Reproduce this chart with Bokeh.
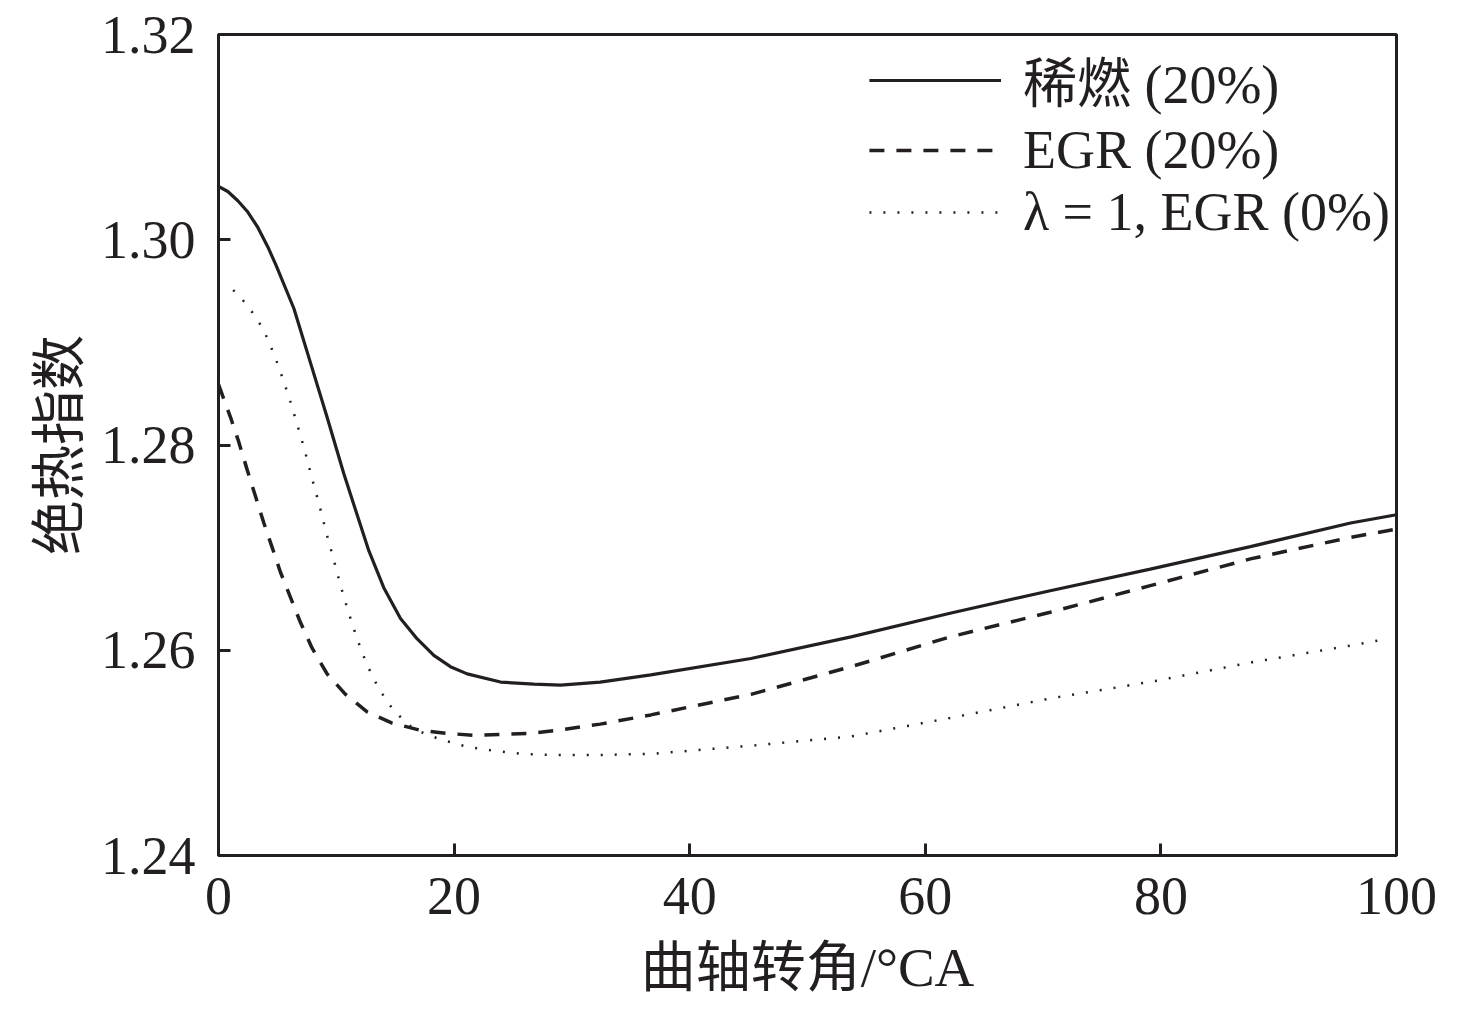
from bokeh.plotting import figure
from bokeh.models import Legend, LegendItem, FixedTicker, CustomJSTickFormatter, Range1d
from bokeh.embed import file_html
from bokeh.resources import INLINE

# 稀燃 (20%)
lean_x = [0, 0.79, 1.64, 2.49, 3.34, 4.19, 4.89, 6.40, 7.81, 9.22, 10.64, 12.05, 12.76, 14.03,
          15.45, 16.87, 18.28, 19.69, 21.11, 23.94, 26.77, 29.03, 32.4, 36.7, 45.2, 53.7,
          62.1, 70.6, 79.1, 87.6, 96.1, 100]
lean_y = [1.3052, 1.3047, 1.3038, 1.3027, 1.3012, 1.2993, 1.2975, 1.2933, 1.2880, 1.2827,
          1.2772, 1.2722, 1.2697, 1.2661, 1.2631, 1.2611, 1.2595, 1.2584, 1.2577, 1.2569,
          1.2567, 1.2566, 1.2569, 1.2576, 1.2592, 1.2613, 1.2636, 1.2658, 1.2679, 1.2701,
          1.2724, 1.2732]

# EGR (20%)
egr_x = [0, 1.02, 1.72, 2.43, 3.14, 3.85, 4.56, 5.26, 6.96, 7.95, 9.22, 10.78, 12.62, 14.74,
         17.15, 19.41, 21.82, 24.22, 26.49, 28.75, 32.4, 36.7, 45.2, 53.7, 62.1, 70.6,
         79.1, 87.6, 96.1, 100]
egr_y = [1.2859, 1.2827, 1.2803, 1.2776, 1.2750, 1.2724, 1.2700, 1.2676, 1.2627, 1.2602,
         1.2577, 1.2557, 1.2540, 1.2529, 1.2522, 1.2519, 1.2517, 1.2518, 1.2519, 1.2522,
         1.2528, 1.2537, 1.2557, 1.2584, 1.2613, 1.2637, 1.2663, 1.2689, 1.2710, 1.2718]

# λ = 1, EGR (0%)
stoich_x = [1.25, 2.07, 2.77, 3.42, 3.99, 4.47, 4.89, 5.29, 6.03, 6.71, 7.36, 7.95, 8.55,
            9.14, 9.74, 10.36, 11.01, 11.74, 12.56, 13.58, 14.88, 16.58, 18.85, 21.11,
            23.37, 25.78, 28.18, 32.4, 36.7, 45.2, 53.7, 62.1, 70.6, 79.5, 87.6, 95.8, 99.2]
stoich_y = [1.2951, 1.2941, 1.2931, 1.2920, 1.2908, 1.2895, 1.2883, 1.2870, 1.2845, 1.2819,
            1.2793, 1.2767, 1.2742, 1.2715, 1.2690, 1.2663, 1.2638, 1.2612, 1.2587, 1.2563,
            1.2541, 1.2523, 1.2513, 1.2506, 1.2502, 1.2499, 1.2498, 1.2498, 1.2499, 1.2507,
            1.2516, 1.2534, 1.2553, 1.2570, 1.2588, 1.2604, 1.2611]

x_ticks = [0, 20, 40, 60, 80, 100]
y_ticks = [1.24, 1.26, 1.28, 1.30, 1.32]

serif = "'Liberation Serif', 'Noto Sans CJK SC'"
ink = "#231f20"

p = figure(width=1460, height=1000, output_backend="svg", toolbar_location=None,
           x_range=Range1d(0, 100), y_range=Range1d(1.24, 1.32),
           min_border_left=218, min_border_right=64, min_border_top=34, min_border_bottom=138)

p.xgrid.visible = False
p.ygrid.visible = False
p.outline_line_color = ink
p.outline_line_width = 3

r1 = p.line(lean_x, lean_y, line_color=ink, line_width=3.2)
r2 = p.line(egr_x, egr_y, line_color=ink, line_width=3.5, line_dash="15 12")
r3 = p.line(stoich_x, stoich_y, line_color=ink, line_width=2.5, line_dash="2 12")

for ax in (p.xaxis[0], p.yaxis[0]):
    ax.axis_line_width = 3
    ax.axis_line_color = ink
    ax.major_tick_line_width = 3
    ax.major_tick_line_color = ink
    ax.major_tick_in = 12
    ax.major_tick_out = 0
    ax.minor_tick_line_color = None
    ax.major_label_text_font = serif
    ax.major_label_text_font_size = "54px"
    ax.major_label_text_color = ink
    ax.axis_label_text_font = serif
    ax.axis_label_text_font_size = "55px"
    ax.axis_label_text_font_style = "normal"
    ax.axis_label_text_color = ink

p.xaxis.ticker = FixedTicker(ticks=x_ticks)
p.yaxis.ticker = FixedTicker(ticks=y_ticks)
p.yaxis.formatter = CustomJSTickFormatter(code="return tick.toFixed(2);")
p.xaxis.axis_label = "曲轴转角/°CA"
p.yaxis.axis_label = "绝热指数"
p.xaxis.major_label_standoff = 22
p.yaxis.major_label_standoff = 23
p.xaxis.axis_label_standoff = 20
p.yaxis.axis_label_standoff = 8

legend = Legend(items=[
    LegendItem(label="稀燃 (20%)", renderers=[r1]),
    LegendItem(label="EGR (20%)", renderers=[r2]),
    LegendItem(label="λ = 1, EGR (0%)", renderers=[r3]),
], location="top_right")
legend.background_fill_alpha = 0
legend.border_line_color = None
legend.label_text_font = serif
legend.label_text_font_size = "54px"
legend.label_text_color = ink
legend.glyph_width = 132
legend.glyph_height = 60
legend.label_height = 60
legend.label_standoff = 22
legend.spacing = 0
legend.padding = 12
legend.margin = 6
p.add_layout(legend)

open("out.html", "w").write(file_html(p, INLINE))
